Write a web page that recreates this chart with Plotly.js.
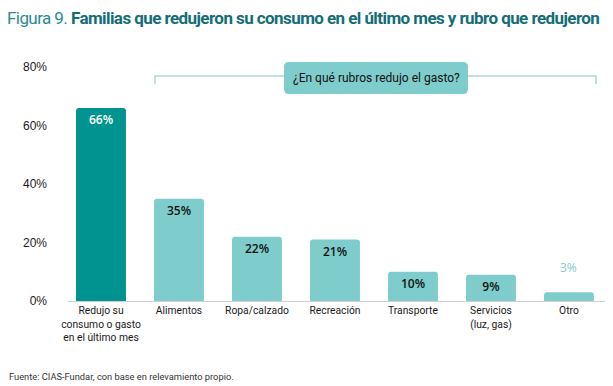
<!DOCTYPE html>
<html>
<head>
<meta charset="utf-8">
<script src="https://cdn.plot.ly/plotly-3.0.1.min.js"></script>
<style>html,body{margin:0;padding:0;background:#fff;}#chart{width:613px;height:386px;}
#chart .gtitle{letter-spacing:-0.57px;}</style>
</head>
<body>
<div id="chart"></div>
<script>
const categories = ["Redujo su<br>consumo o gasto<br>en el último mes", "Alimentos", "Ropa/calzado", "Recreación", "Transporte", "Servicios<br>(luz, gas)", "Otro"];
const values = [66, 35, 22, 21, 10, 9, 3];
const barColors = ["#009390", "#7ecdcc", "#7ecdcc", "#7ecdcc", "#7ecdcc", "#7ecdcc", "#7ecdcc"];
const labelColors = ["#ffffff", "#111111", "#111111", "#111111", "#111111", "#111111", "#7ecdcc"];
const yTicks = [0, 20, 40, 60, 80];
const calloutText = "¿En qué rubros redujo el gasto?";

const W = 613, H = 386;
const L = 68, R = 8, T = 67, B = 85;
const pw = W - L - R, ph = H - T - B;
const px = v => (v - L) / pw;
const py = v => (H - B - v) / ph;

function roundRect(x0, y0, x1, y1, r) {
  const p = (x, y) => px(x) + ',' + py(y);
  return 'M' + p(x0 + r, y0) + ' L' + p(x1 - r, y0) + ' Q' + p(x1, y0) + ' ' + p(x1, y0 + r) +
    ' L' + p(x1, y1 - r) + ' Q' + p(x1, y1) + ' ' + p(x1 - r, y1) +
    ' L' + p(x0 + r, y1) + ' Q' + p(x0, y1) + ' ' + p(x0, y1 - r) +
    ' L' + p(x0, y0 + r) + ' Q' + p(x0, y0) + ' ' + p(x0 + r, y0) + ' Z';
}

const outsideIdx = values.length - 1;
const trace = {
  type: 'bar',
  x: categories,
  y: values,
  marker: {color: barColors, cornerradius: 3},
  text: values.map((v, i) => i === outsideIdx ? '' : v + '%'),
  textposition: 'inside',
  insidetextanchor: 'end',
  textangle: 0,
  textfont: {family: 'Open Sans, sans-serif', size: 12, weight: 600, color: labelColors},
  hoverinfo: 'skip',
  cliponaxis: false
};

const layout = {
  width: W, height: H,
  margin: {l: L, r: R, t: T, b: B},
  paper_bgcolor: '#ffffff', plot_bgcolor: '#ffffff',
  showlegend: false,
  bargap: 0.36,
  title: {
    text: '<span style="font-weight:normal;color:#2a8a8f">Figura 9.</span> <b>Familias que redujeron su consumo en el último mes y rubro que redujeron</b>',
    font: {family: 'Roboto, sans-serif', size: 17, color: '#146d76'},
    x: 7 / W, xref: 'container', xanchor: 'left',
    y: 1 - 18 / H, yref: 'container', yanchor: 'middle'
  },
  xaxis: {
    type: 'category',
    range: [-0.423, 6.462],
    showline: true, linecolor: '#cfcfcf', linewidth: 1,
    showgrid: false, zeroline: false, ticks: '',
    tickfont: {family: 'Roboto, sans-serif', size: 10.3, color: '#1a1a1a'},
    fixedrange: true
  },
  yaxis: {
    range: [0, 80],
    tickvals: yTicks,
    ticktext: yTicks.map(v => v + '%'),
    showgrid: false, zeroline: false, showline: false, ticks: '',
    ticklabelstandoff: 20,
    tickfont: {family: 'Liberation Sans, Arial, sans-serif', size: 12, color: '#1a1a1a'},
    fixedrange: true
  },
  shapes: [
    {type: 'path', xref: 'paper', yref: 'paper',
     path: 'M' + px(155) + ',' + py(84) + ' L' + px(155) + ',' + py(76) + ' L' + px(596) + ',' + py(76) + ' L' + px(596) + ',' + py(84),
     line: {color: '#a8dcd9', width: 1.5}},
    {type: 'path', xref: 'paper', yref: 'paper',
     path: roundRect(284, 62, 468, 94, 5),
     fillcolor: '#7ecdcc', line: {width: 0}}
  ],
  annotations: [
    {xref: 'paper', yref: 'paper', x: px(376), y: py(78), xanchor: 'center', yanchor: 'middle',
     text: calloutText, showarrow: false,
     font: {family: 'Roboto, sans-serif', size: 12, color: '#111111'}},
    {xref: 'x', yref: 'y', x: categories[outsideIdx], y: values[outsideIdx], yanchor: 'bottom', yshift: 14,
     text: values[outsideIdx] + '%', showarrow: false,
     font: {family: 'Open Sans, sans-serif', size: 12, color: labelColors[outsideIdx]}},
    {xref: 'paper', yref: 'paper', x: px(7), y: py(376), xanchor: 'left', yanchor: 'middle',
     text: 'Fuente: CIAS-Fundar, con base en relevamiento propio.', showarrow: false,
     font: {family: 'Roboto, sans-serif', size: 9.3, color: '#333333'}}
  ]
};

Plotly.newPlot('chart', [trace], layout, {staticPlot: true, displayModeBar: false});
</script>
</body>
</html>
